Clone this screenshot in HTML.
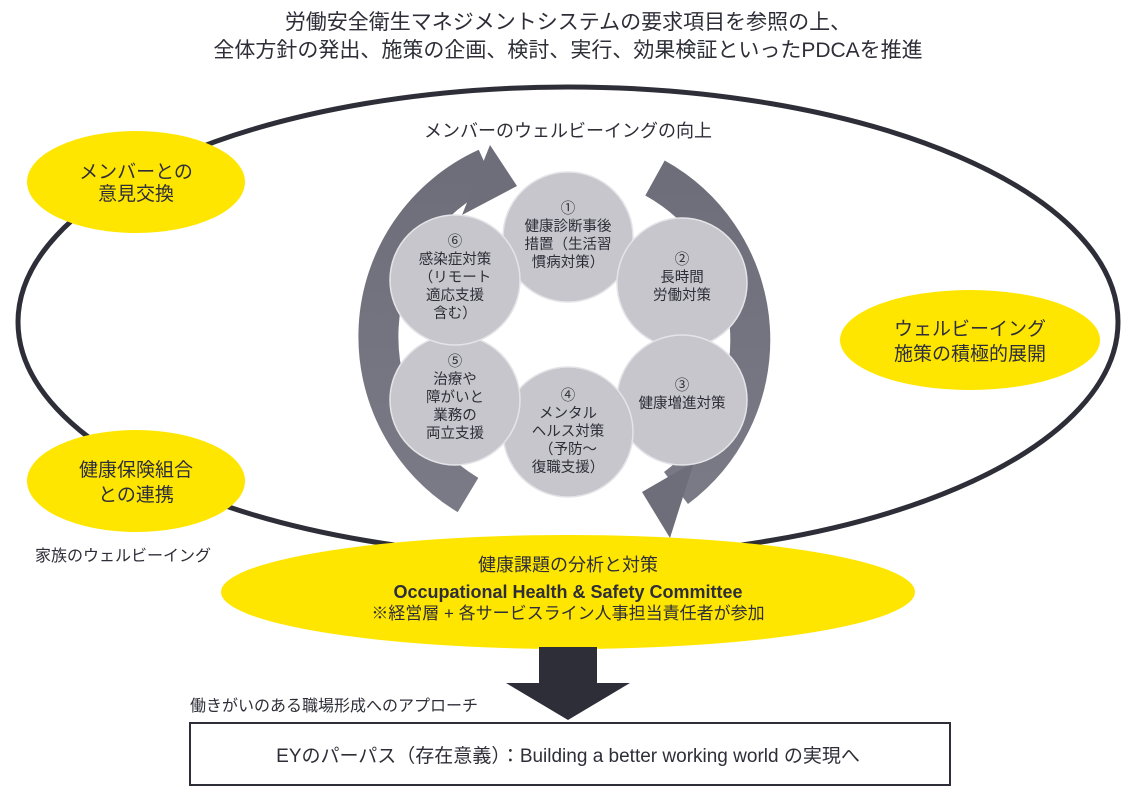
<!DOCTYPE html>
<html><head><meta charset="utf-8"><style>
html,body{margin:0;padding:0;background:#fff;}
svg{display:block;}
text{font-family:"Liberation Sans","Noto Sans CJK JP",sans-serif;fill:#2e2e38;}
</style></head><body>
<svg width="1136" height="793" viewBox="0 0 1136 793" xmlns="http://www.w3.org/2000/svg">
<defs>
<linearGradient id="g" x1="0" y1="0" x2="0" y2="1"><stop offset="0" stop-color="#6e6e7a"/><stop offset="1" stop-color="#7a7a86"/></linearGradient>
</defs>
<text x="568" y="29" font-size="21" text-anchor="middle">労働安全衛生マネジメントシステムの要求項目を参照の上、</text>
<text x="568" y="57" font-size="21" text-anchor="middle">全体方針の発出、施策の企画、検討、実行、効果検証といったPDCAを推進</text>
<ellipse cx="568" cy="322" rx="550" ry="235" fill="none" stroke="#2e2e38" stroke-width="5"/>
<text x="568" y="137" font-size="18" text-anchor="middle">メンバーのウェルビーイングの向上</text>
<path d="M468,495 A185,185 0 0 1 487,168" fill="none" stroke="url(#g)" stroke-width="40"/>
<polygon points="490,145 517,186 462,215" fill="#6e6e7a"/>
<path d="M655,178 A185,185 0 0 1 676,488" fill="none" stroke="url(#g)" stroke-width="40"/>
<polygon points="642,492 694,462 670,538" fill="#6e6e7a"/>
<g fill="#c6c6cc" stroke="#e4e4e8" stroke-width="1.5">
<circle cx="568" cy="237" r="65"/>
<circle cx="682" cy="283" r="65"/>
<circle cx="682" cy="400" r="65"/>
<circle cx="568" cy="432" r="65"/>
<circle cx="455" cy="400" r="65"/>
<circle cx="455" cy="280" r="65"/>
</g>
<g font-size="14.5" text-anchor="middle">
<text x="568" y="213">①</text><text x="568" y="231">健康診断事後</text><text x="568" y="249">措置（生活習</text><text x="568" y="267">慣病対策）</text>
<text x="682" y="264">②</text><text x="682" y="282">長時間</text><text x="682" y="300">労働対策</text>
<text x="682" y="390">③</text><text x="682" y="408">健康増進対策</text>
<text x="568" y="400">④</text><text x="568" y="418">メンタル</text><text x="568" y="436">ヘルス対策</text><text x="568" y="454">（予防～</text><text x="568" y="472">復職支援）</text>
<text x="455" y="366">⑤</text><text x="455" y="384">治療や</text><text x="455" y="402">障がいと</text><text x="455" y="420">業務の</text><text x="455" y="438">両立支援</text>
<text x="455" y="246">⑥</text><text x="455" y="264">感染症対策</text><text x="455" y="282">（リモート</text><text x="455" y="300">適応支援</text><text x="455" y="318">含む）</text>
</g>
<g fill="#ffe600">
<ellipse cx="136" cy="182" rx="109" ry="51"/>
<ellipse cx="970" cy="340" rx="130" ry="50"/>
<ellipse cx="136" cy="481" rx="109" ry="51"/>
<ellipse cx="568" cy="592" rx="347" ry="57"/>
</g>
<g font-size="19" text-anchor="middle">
<text x="136" y="178">メンバーとの</text><text x="136" y="200">意見交換</text>
<text x="970" y="335">ウェルビーイング</text><text x="970" y="360">施策の積極的展開</text>
<text x="136" y="476">健康保険組合</text><text x="136" y="501">との連携</text>
</g>
<text x="35" y="561" font-size="16">家族のウェルビーイング</text>
<text x="568" y="571" font-size="18" text-anchor="middle">健康課題の分析と対策</text>
<text x="568" y="598" font-size="18" font-weight="bold" text-anchor="middle">Occupational Health &amp; Safety Committee</text>
<text x="568" y="619" font-size="17" text-anchor="middle">※経営層 + 各サービスライン人事担当責任者が参加</text>
<polygon points="539,647 597,647 597,683 630,683 568,720 506,683 539,683" fill="#2e2e38"/>
<text x="190" y="711" font-size="16">働きがいのある職場形成へのアプローチ</text>
<rect x="190" y="723" width="760" height="62" fill="#fff" stroke="#2e2e38" stroke-width="2"/>
<text x="568" y="762" font-size="19" text-anchor="middle">EYのパーパス（存在意義）：Building a better working world の実現へ</text>
</svg>
</body></html>
